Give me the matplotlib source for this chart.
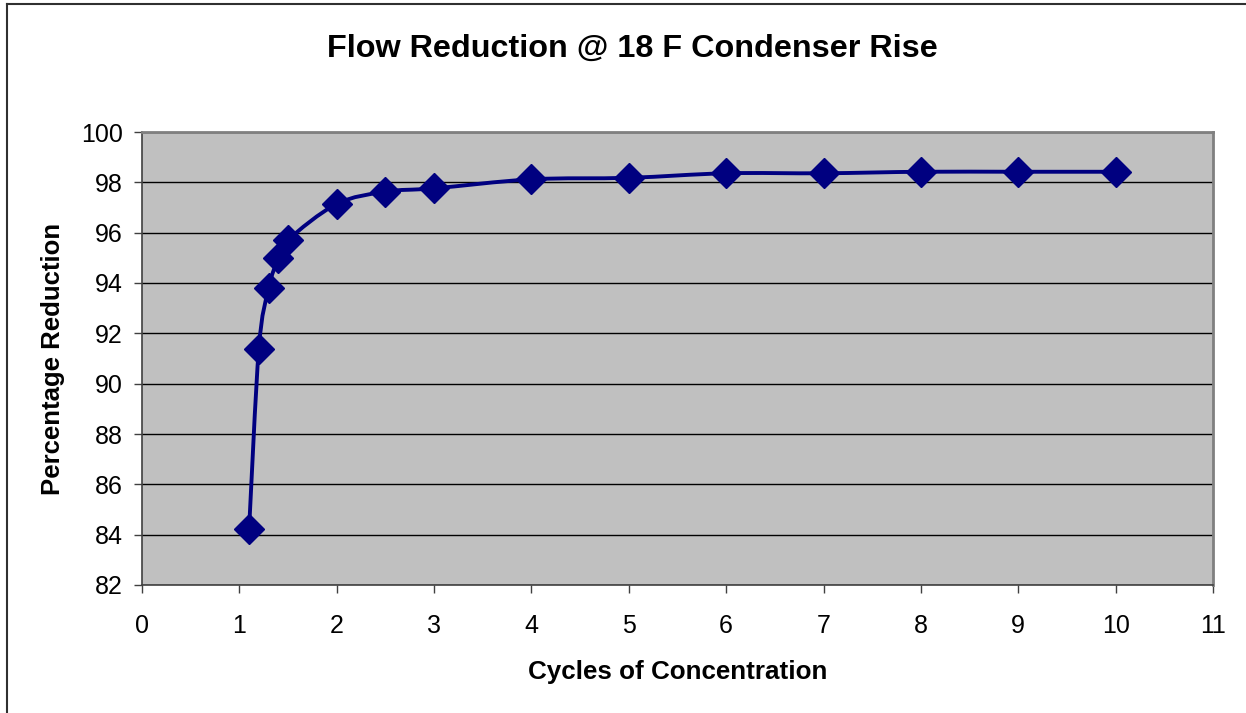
import numpy as np
import matplotlib
matplotlib.use("Agg")
import matplotlib.pyplot as plt
from matplotlib.path import Path
from matplotlib.patches import PathPatch
from matplotlib.lines import Line2D

cycles = [1.1, 1.2, 1.3, 1.4, 1.5, 2, 2.5, 3, 4, 5, 6, 7, 8, 9, 10]
reduction = [84.23, 91.39, 93.79, 94.98, 95.71, 97.14, 97.63, 97.76, 98.12,
             98.18, 98.36, 98.36, 98.42, 98.42, 98.42]
title = "Flow Reduction @ 18 F Condenser Rise"
xlabel = "Cycles of Concentration"
ylabel = "Percentage Reduction"

plt.rcParams['font.family'] = ['Liberation Sans', 'DejaVu Sans']

fig = plt.figure(figsize=(12.46, 7.13), dpi=100)
ax = fig.add_axes([142/1246, 1-585/713, (1213-142)/1246, (585-132)/713])
ax.set_facecolor('#C0C0C0')
ax.set_xlim(0, 11)
ax.set_ylim(82, 100)
ax.set_xticks(range(0, 12))
ax.set_yticks(range(82, 101, 2))
ax.grid(axis='y', color='black', linewidth=1.0)
ax.set_axisbelow(True)
for s in ['top', 'right']:
    ax.spines[s].set_color('#808080')
    ax.spines[s].set_linewidth(2)
for s in ['left', 'bottom']:
    ax.spines[s].set_color('#404040')
    ax.spines[s].set_linewidth(1.2)
ax.tick_params(axis='both', direction='out', length=6, width=1, color='#404040',
               labelsize=18)
ax.tick_params(axis='x', pad=15)
ax.tick_params(axis='y', pad=8)

# smoothed curve (Catmull-Rom style bezier through the data points)
x = np.array(cycles, float)
y = np.array(reduction, float)
sx, sy = 97.3, 25.17
px, py = x * sx, y * sy
verts = [(x[0], y[0])]
codes = [Path.MOVETO]
t = 1/6
for i in range(len(x) - 1):
    p0 = (px[i-1], py[i-1]) if i > 0 else (px[i], py[i])
    p1 = (px[i], py[i])
    p2 = (px[i+1], py[i+1])
    p3 = (px[i+2], py[i+2]) if i + 2 < len(x) else (px[i+1], py[i+1])
    c1 = (p1[0] + (p2[0]-p0[0])*t, p1[1] + (p2[1]-p0[1])*t)
    c2 = (p2[0] - (p3[0]-p1[0])*t, p2[1] - (p3[1]-p1[1])*t)
    verts += [(c1[0]/sx, c1[1]/sy), (c2[0]/sx, c2[1]/sy), (p2[0]/sx, p2[1]/sy)]
    codes += [Path.CURVE4]*3
patch = PathPatch(Path(verts, codes), facecolor='none', edgecolor='#000080',
                  linewidth=2.8, zorder=3, capstyle='round', joinstyle='round')
ax.add_patch(patch)
ax.plot(x, y, linestyle='none', marker='D', markersize=15, color='#000080',
        zorder=4, clip_on=False)

fig.text(632/1246, 1-49/713, title, ha='center', va='center', fontsize=23.3,
         fontweight='bold')
ax.set_xlabel(xlabel, fontsize=18.7, fontweight='bold', labelpad=15.5)
ax.set_ylabel(ylabel, fontsize=18.5, fontweight='bold', labelpad=11)

# chart area border
fig.add_artist(Line2D([7/1246, 7/1246], [0, 1-4/713], color='#303030', lw=1.5,
                      transform=fig.transFigure))
fig.add_artist(Line2D([7/1246, 1], [1-4/713, 1-4/713], color='#303030', lw=1.5,
                      transform=fig.transFigure))

fig.savefig('out.png', dpi=100, facecolor='white')
